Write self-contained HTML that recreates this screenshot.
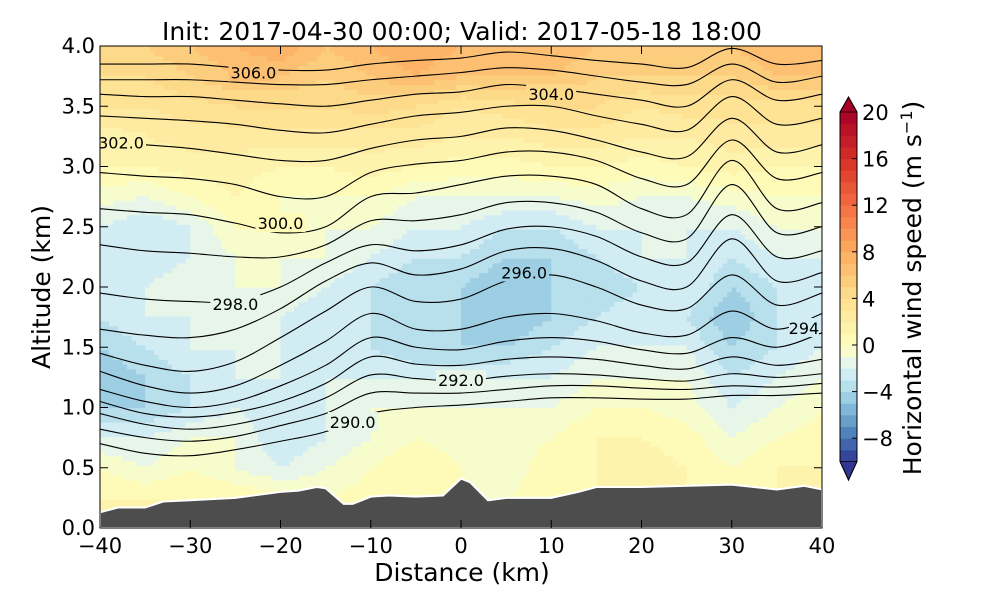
<!DOCTYPE html>
<html><head><meta charset="utf-8"><style>
body{margin:0;background:#fff;}
svg{display:block;font-family:"DejaVu Sans","Liberation Sans",sans-serif;}
</style></head><body>
<svg id="chart" width="1000" height="600">
<defs><clipPath id="pc"><rect x="100" y="46" width="722" height="482"/></clipPath></defs>
<text x="462" y="40" font-size="25" text-anchor="middle">Init: 2017-04-30 00:00; Valid: 2017-05-18 18:00</text>
<g id="field" clip-path="url(#pc)"></g>
<g id="theta" clip-path="url(#pc)"></g>
<g id="terrain" clip-path="url(#pc)"></g>
<rect x="100" y="46" width="722" height="482" fill="none" stroke="#000" stroke-width="1"/>
<g id="axes"></g>
<text x="462" y="581" font-size="25" text-anchor="middle">Distance (km)</text>
<text transform="translate(50,287) rotate(-90)" font-size="25" text-anchor="middle">Altitude (km)</text>
<g id="cbar"></g>
<text transform="translate(921,288) rotate(-90)" font-size="25" text-anchor="middle">Horizontal wind speed (m s<tspan dy="-9" font-size="16">−1</tspan><tspan dy="9">)</tspan></text>
</svg>
<script>
const distances=[-40,-35,-30,-25,-20,-15,-10,-5,0,5,10,15,20,25,30,35,40];
const altitudes=[0,0.25,0.5,0.75,1.0,1.25,1.5,1.75,2.0,2.25,2.5,2.75,3.0,3.25,3.5,3.75,4.0];
const windRows=[
[1,1,1,1,0.5,0,0.5,1,0,0,0.5,1,1.5,1,0.5,1,1.5],
[1,1,1,1,0.5,0,0.5,1,0,0,0.5,1,1.5,1,0.5,1,1.5],
[0,-1,0,-1,-2,-1,0,1,0,-0.5,0.5,1,1.5,1,0,1,1],
[-2,-2,-1,-1,-3,-2,-1,0,-0.5,-0.5,0,1,1,0.5,-1,0,0.5],
[-4,-4,-3,-2,-3,-2,-1,-1,-1,-1,-1,0,0,-0.5,-2,-1,0],
[-5,-4,-3,-2,-2,-2,-2,-2,-2,-2,-2,-1,-1,-1,-3,-2,-1],
[-4,-3,-2,-2,-2,-3,-3,-4,-4,-4,-3,-2,-2,-2,-4,-3,-2],
[-3,-2,-2,-2,-2,-3,-3,-4,-4,-5,-4,-3,-2,-3,-5,-3,-3],
[-2,-2,-1,-1,-1,-2,-3,-4,-4,-5,-4,-4,-3,-2,-4,-3,-2],
[-2,-3,-2,-1,-1,-1,-2,-3,-3,-4,-4,-3,-2,-2,-3,-2,-2],
[-2,-3,-2,0,0,-1,-1,-2,-2,-3,-3,-2,-2,-2,-2,-1,-1],
[-0.5,-1,0,1,0,0,0,-1,-1,-1,-1,-0.5,-1,-1,-0.5,0,0],
[1,1,1.5,1.5,1,1,1.5,1,0.5,0.5,1,1,0.5,1,1.5,1,1],
[1.5,2,2.5,2.5,2.5,2.5,2.5,2.5,2,2,2.5,2.5,2,2,2.5,2.5,2.5],
[3,3,3.5,4,4,4,4.5,4,3,3.5,4,4,3,3.5,3.5,3.5,3.5],
[4,4,5,6,6,5,6,7,6,6,6,5,5,5,5,6,6],
[5,5,6,7,8,6,7,8,7,7,7,6,6,6,6,7,7]];
const thetaLevels=[290,291,292,293,294,295,296,297,298,299,300,301,302,303,304,305,306];
const thetaHeights=[
[0.70,0.62,0.60,0.65,0.72,0.80,0.95,1.00,1.02,1.05,1.08,1.08,1.07,1.07,1.10,1.10,1.12],
[0.82,0.75,0.72,0.76,0.85,0.95,1.12,1.12,1.12,1.15,1.18,1.18,1.16,1.15,1.18,1.17,1.20],
[0.95,0.86,0.82,0.86,0.95,1.08,1.27,1.24,1.22,1.26,1.28,1.27,1.24,1.22,1.28,1.25,1.28],
[1.05,0.95,0.92,0.96,1.05,1.20,1.42,1.36,1.35,1.40,1.42,1.40,1.35,1.32,1.42,1.35,1.40],
[1.15,1.05,1.00,1.05,1.18,1.35,1.58,1.50,1.48,1.55,1.58,1.55,1.48,1.45,1.58,1.50,1.62],
[1.30,1.18,1.12,1.18,1.35,1.55,1.78,1.65,1.65,1.75,1.78,1.72,1.62,1.60,1.80,1.65,1.78],
[1.45,1.35,1.30,1.38,1.58,1.80,2.00,1.88,1.90,2.05,2.10,2.00,1.85,1.82,2.10,1.85,1.95],
[1.65,1.60,1.58,1.65,1.82,2.05,2.20,2.10,2.15,2.30,2.32,2.22,2.05,2.00,2.40,2.05,2.12],
[1.95,1.90,1.88,1.88,2.00,2.20,2.35,2.30,2.35,2.48,2.50,2.42,2.25,2.20,2.60,2.25,2.30],
[2.35,2.30,2.28,2.25,2.25,2.35,2.55,2.55,2.60,2.70,2.70,2.62,2.45,2.40,2.85,2.45,2.50],
[2.65,2.62,2.60,2.53,2.45,2.50,2.75,2.78,2.85,2.92,2.92,2.85,2.65,2.60,3.05,2.65,2.70],
[2.95,2.92,2.90,2.85,2.75,2.75,2.95,3.02,3.05,3.12,3.12,3.05,2.90,2.85,3.22,2.90,2.95],
[3.20,3.18,3.15,3.10,3.05,3.05,3.15,3.22,3.25,3.32,3.30,3.22,3.12,3.08,3.40,3.12,3.18],
[3.42,3.40,3.38,3.35,3.30,3.28,3.35,3.42,3.45,3.50,3.50,3.42,3.35,3.30,3.58,3.35,3.40],
[3.60,3.58,3.58,3.55,3.52,3.50,3.55,3.60,3.62,3.68,3.65,3.60,3.55,3.50,3.72,3.55,3.60],
[3.72,3.72,3.72,3.70,3.68,3.68,3.72,3.75,3.78,3.82,3.80,3.75,3.70,3.68,3.85,3.70,3.75],
[3.85,3.85,3.85,3.82,3.80,3.80,3.85,3.88,3.90,3.95,3.92,3.88,3.85,3.82,3.98,3.85,3.88]];
const labelTexts=["290.0","292.0","296.0","298.0","300.0","302.0","304.0","306.0","294"];
const labelX=[-12,0,7,-25,-20,-38,10,-23,38];
const labelAlt=[0.88,1.23,2.12,1.86,2.53,3.2,3.6,3.78,1.66];
const terrainX=[-40,-38,-35,-33,-30,-25,-22,-20,-18,-16,-15,-13,-12,-10,-8,-5,-2,0,1,3,5,10,13,15,20,30,35,38,40];
const terrainH=[0.13,0.17,0.17,0.22,0.23,0.25,0.28,0.30,0.31,0.34,0.33,0.20,0.20,0.26,0.27,0.26,0.27,0.41,0.38,0.23,0.25,0.25,0.30,0.34,0.34,0.36,0.32,0.35,0.32];
const xTicks=[-40,-30,-20,-10,0,10,20,30,40];
const yTicks=[0,0.5,1,1.5,2,2.5,3,3.5,4];
const cbTicks=[-8,-4,0,4,8,12,16,20];

const NS="http://www.w3.org/2000/svg";
const X=d=>100+(d+40)/80*722;
const Y=a=>528-a/4*482;
const CB=v=>345-v*11.65;
function el(t,a,p){const e=document.createElementNS(NS,t);for(const k in a)e.setAttribute(k,a[k]);p.appendChild(e);return e;}
function lerpC(c1,c2,t){const a=parseInt(c1.slice(1),16),b=parseInt(c2.slice(1),16);
 const r=((a>>16)&255)*(1-t)+((b>>16)&255)*t,g=((a>>8)&255)*(1-t)+((b>>8)&255)*t,bl=(a&255)*(1-t)+(b&255)*t;
 return `rgb(${r|0},${g|0},${bl|0})`;}
const neg=["#313695","#4575b4","#74add1","#abd9e9","#e0f3f8","#ffffbf"];
const pos=["#ffffbf","#fee090","#fdae61","#f46d43","#d73027","#a50026"];
function cmap(v){v=Math.floor(v)+0.5;if(v<0){let t=Math.max(0,(v+10)/10)*5;const i=Math.min(4,Math.floor(t));return lerpC(neg[i],neg[i+1],t-i);}
 let t=Math.min(1,v/20)*5;const i=Math.min(4,Math.floor(t));return lerpC(pos[i],pos[i+1],t-i);}
function sample(d,a){let i=Math.max(0,Math.min(15.999,(d+40)/5)),j=Math.max(0,Math.min(15.999,a/0.25));
 const i0=Math.floor(i),j0=Math.floor(j),fi=i-i0,fj=j-j0;const r0=windRows[j0],r1=windRows[j0+1];
 return (r0[i0]*(1-fi)+r0[i0+1]*fi)*(1-fj)+(r1[i0]*(1-fi)+r1[i0+1]*fi)*fj;}
const field=document.getElementById('field');
const NX=160,NY=100;
for(let j=0;j<NY;j++)for(let i=0;i<NX;i++){
 const d0=-40+80*i/NX,d1=-40+80*(i+1)/NX,a0=4*j/NY,a1=4*(j+1)/NY;
 const r=el('rect',{x:X(d0),y:Y(a1),width:X(d1)-X(d0)+0.6,height:Y(a0)-Y(a1)+0.6,fill:cmap(sample((d0+d1)/2,(a0+a1)/2))},field);
 
 
}
const theta=document.getElementById('theta');
function smoothPath(pts){let s=`M${pts[0][0]},${pts[0][1]}`;for(let k=0;k<pts.length-1;k++){
 const p0=pts[Math.max(0,k-1)],p1=pts[k],p2=pts[k+1],p3=pts[Math.min(pts.length-1,k+2)];
 s+=` C${p1[0]+(p2[0]-p0[0])/6},${p1[1]+(p2[1]-p0[1])/6} ${p2[0]-(p3[0]-p1[0])/6},${p2[1]-(p3[1]-p1[1])/6} ${p2[0]},${p2[1]}`;}return s;}
thetaHeights.forEach((row,k)=>{
 const p=el('path',{d:smoothPath(row.map((h,i)=>[X(distances[i]),Y(h)])),fill:'none',stroke:'#000','stroke-width':1.1},theta);
 
 
});
labelTexts.forEach((t,k)=>{
 const x=X(labelX[k]),y=Y(labelAlt[k]);const w=t.length*10;
 const bx=Math.max(96,x-w/2);
 const r=el('rect',{x:bx,y:y-10,width:w,height:19,fill:cmap(sample(labelX[k],labelAlt[k]))},theta);
 
 
 const tx=el('text',{x:bx+w/2,y:y+6,'font-size':16,'text-anchor':'middle'},theta);tx.textContent=t;
 
 
});
const ter=document.getElementById('terrain');
let tp=`M${X(-40)},${Y(0)}`;terrainX.forEach((d,i)=>tp+=` L${X(d)},${Y(terrainH[i])}`);tp+=` L${X(40)},${Y(0)} Z`;
const tpath=el('path',{d:tp,fill:'#4d4d4d',stroke:'#fff','stroke-width':2},ter);


const ax=document.getElementById('axes');
xTicks.forEach(v=>{const x=X(v);el('line',{x1:x,x2:x,y1:528,y2:520,stroke:'#000'},ax);el('line',{x1:x,x2:x,y1:46,y2:54,stroke:'#000'},ax);
 const t=el('text',{x:x,y:553,'font-size':21,'text-anchor':'middle'},ax);t.textContent=(v<0?'−':'')+Math.abs(v);
 
 });
yTicks.forEach(v=>{const y=Y(v);el('line',{x1:100,x2:108,y1:y,y2:y,stroke:'#000'},ax);el('line',{x1:822,x2:814,y1:y,y2:y,stroke:'#000'},ax);
 const t=el('text',{x:95,y:y+7,'font-size':21,'text-anchor':'end'},ax);t.textContent=v.toFixed(1);
 
 });
const cb=document.getElementById('cbar');
for(let v=-10;v<20;v++){const r=el('rect',{x:840,y:CB(v+1),width:17,height:11.65+0.5,fill:cmap(v)},cb);
 
 }
el('path',{d:`M840,${CB(20)} L848.5,97 L857,${CB(20)} Z`,fill:cmap(20),stroke:'#000','stroke-width':0.8},cb);
el('path',{d:`M840,${CB(-10)} L848.5,480 L857,${CB(-10)} Z`,fill:cmap(-11),stroke:'#000','stroke-width':0.8},cb);
el('path',{d:`M840,${CB(20)} L848.5,97 L857,${CB(20)} L857,${CB(-10)} L848.5,480 L840,${CB(-10)} Z`,fill:'none',stroke:'#000','stroke-width':1},cb);
cbTicks.forEach(v=>{const y=CB(v);el('line',{x1:857,x2:852,y1:y,y2:y,stroke:'#000'},cb);
 const t=el('text',{x:862,y:y+8,'font-size':21},cb);t.textContent=(v<0?'−':'')+Math.abs(v);
 
 });
</script>
</body></html>
